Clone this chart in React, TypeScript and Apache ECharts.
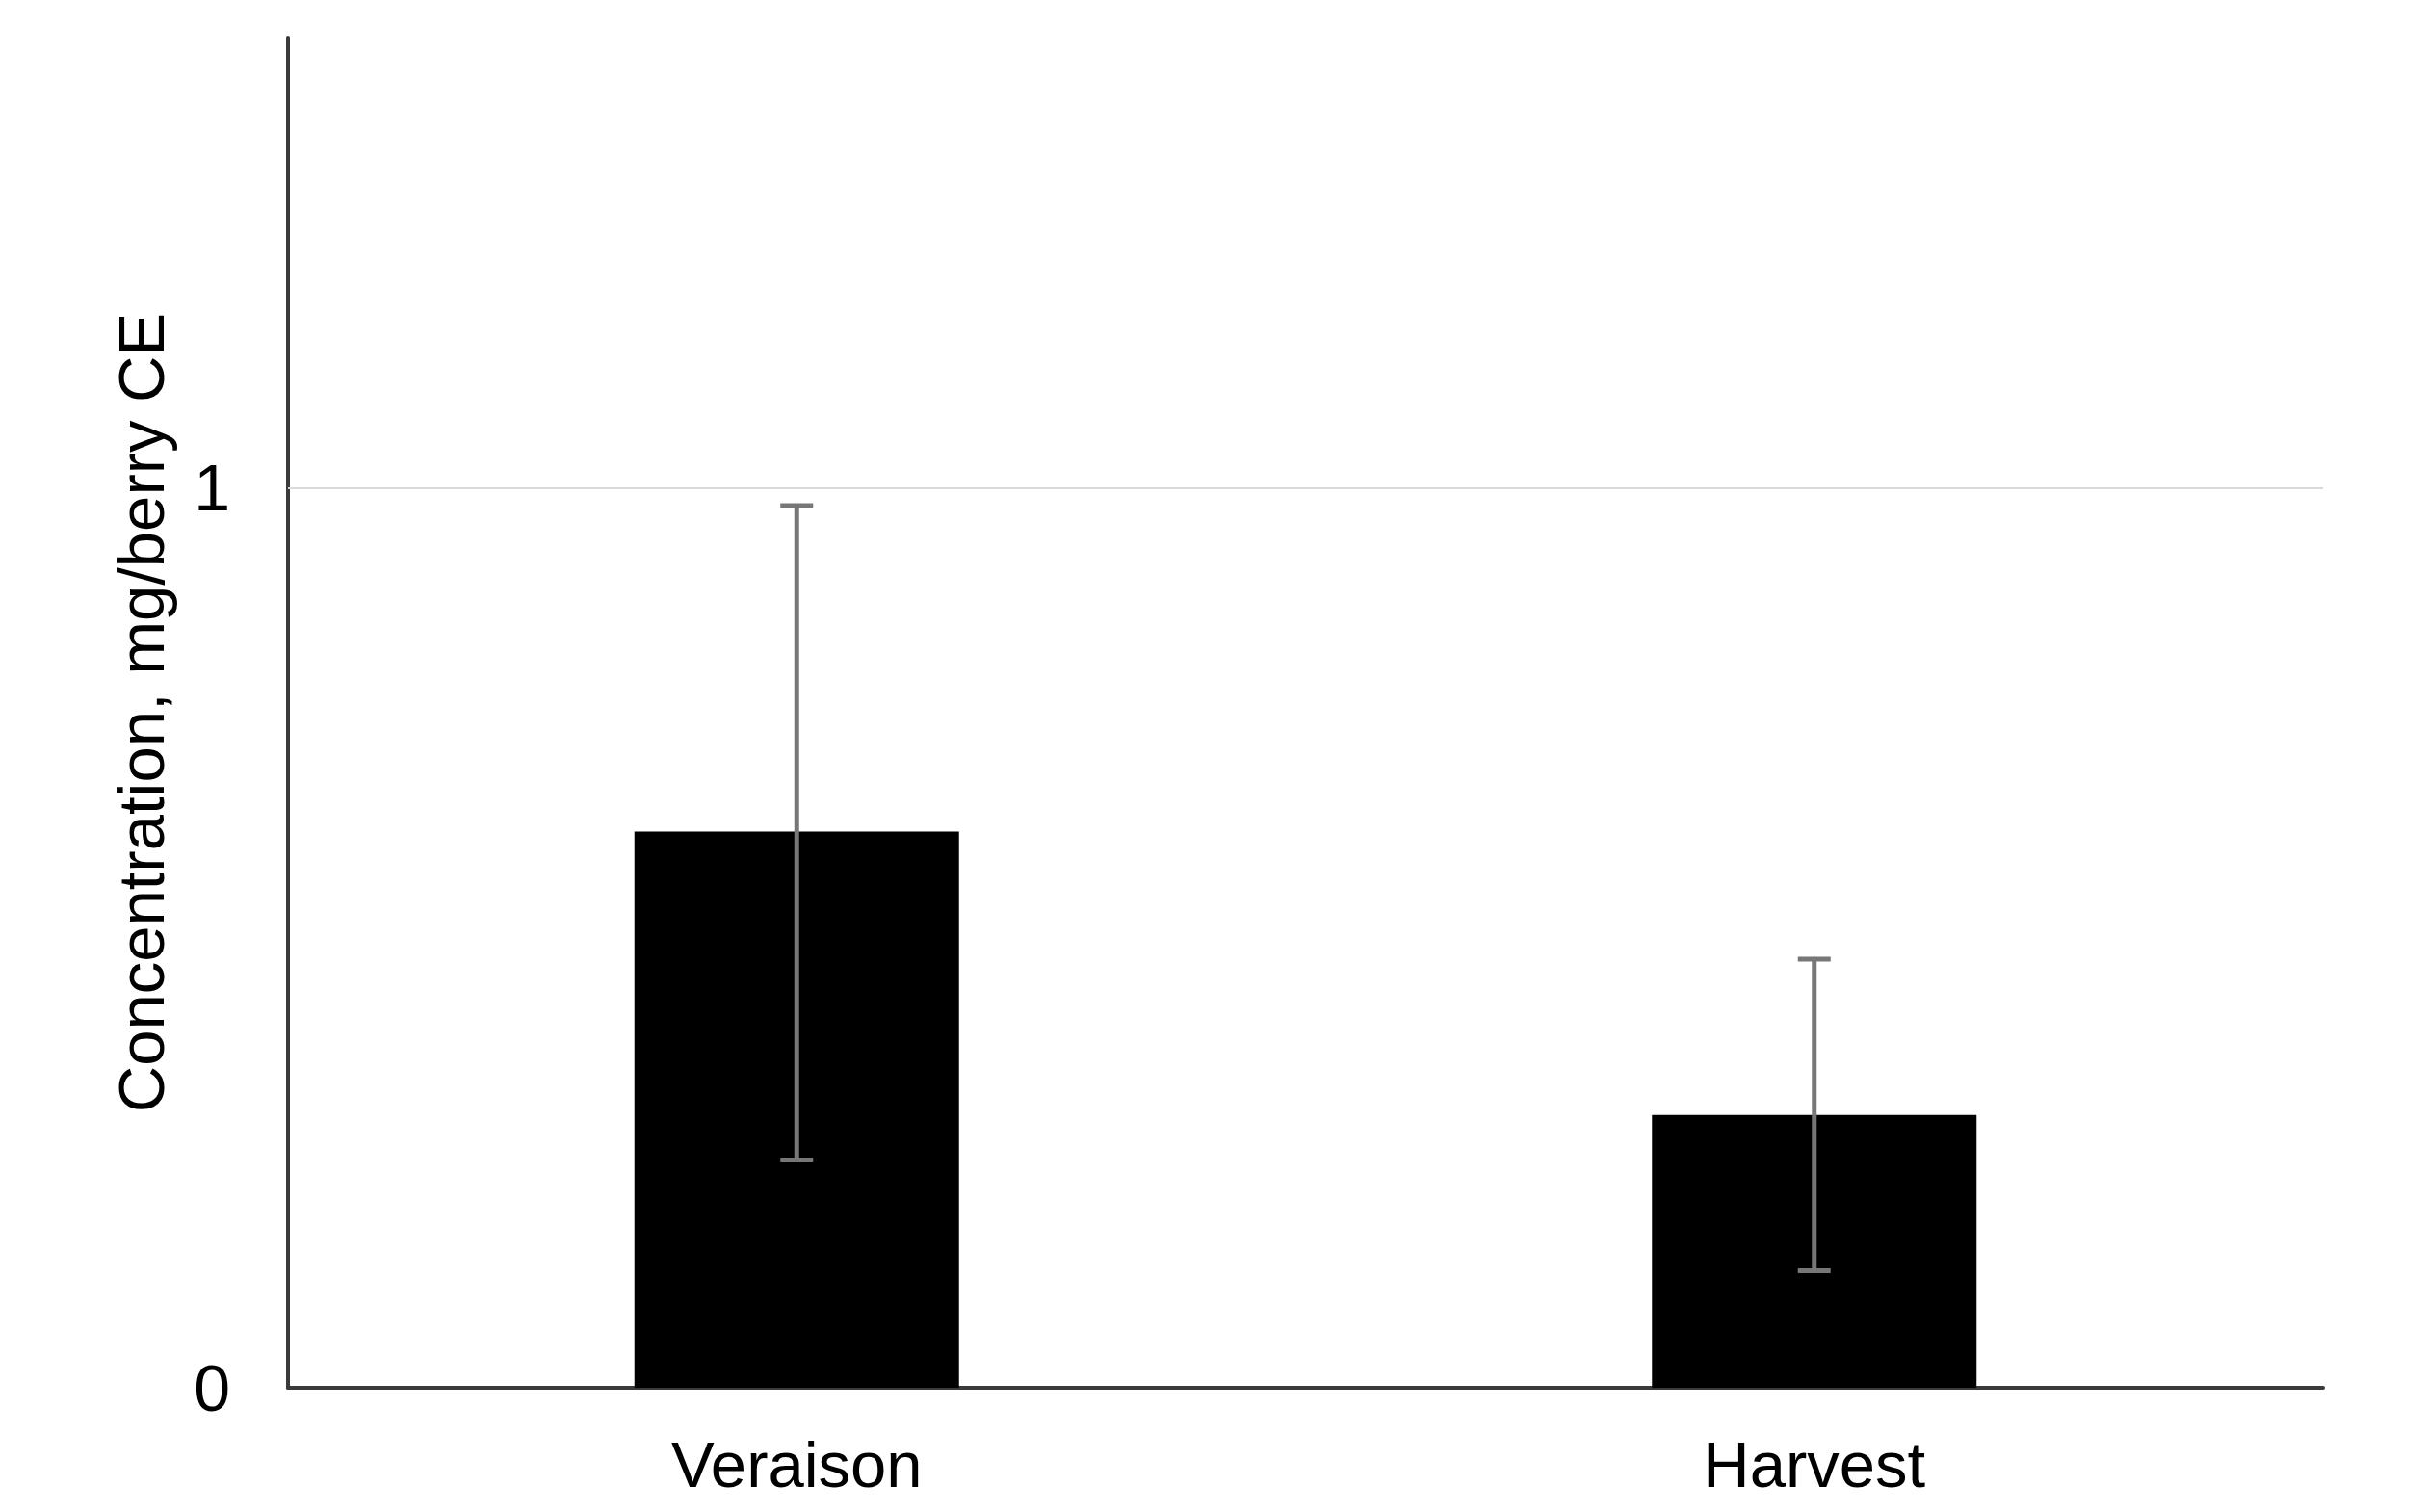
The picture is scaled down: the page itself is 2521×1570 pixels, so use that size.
import React, { useEffect, useRef } from "react";
import * as echarts from "echarts";

const categories = ["Veraison", "Harvest"];
const values = [0.618, 0.303];
const errLow = [0.253, 0.13];
const errHigh = [0.98, 0.476];
const yTickLabels = [0, 1];
const yAxisName = "Concentration, mg/berry CE";

const FONT = "'Liberation Sans', Arial, sans-serif";

export default function App() {
  const ref = useRef<HTMLDivElement>(null);
  useEffect(() => {
    if (!ref.current) return;
    const chart = echarts.init(ref.current, undefined, { renderer: "svg" });
    chart.setOption({
      animation: false,
      backgroundColor: "#ffffff",
      grid: { left: 299, right: 109, top: 39, bottom: 129 },
      xAxis: {
        type: "category",
        data: categories,
        axisLine: { show: true, lineStyle: { color: "#3a3a3a", width: 4 } },
        axisTick: { show: false },
        axisLabel: { color: "#000", fontFamily: FONT, fontSize: 67, margin: 46 },
      },
      yAxis: {
        type: "value",
        min: 0,
        max: 1.5,
        interval: 1,
        name: yAxisName,
        nameLocation: "middle",
        nameGap: 119,
        nameTextStyle: { color: "#000", fontFamily: FONT, fontSize: 67 },
        axisLine: { show: true, lineStyle: { color: "#3a3a3a", width: 4 } },
        axisTick: { show: false },
        splitLine: { show: false },
        axisLabel: {
          color: "#000",
          fontFamily: FONT,
          fontSize: 68,
          margin: 60,
          showMaxLabel: false,
          formatter: (v: number) => (yTickLabels.includes(v) ? String(v) : ""),
        },
      },
      series: [
        {
          type: "bar",
          data: values,
          barWidth: 337,
          itemStyle: { color: "#000" },
          markLine: {
            silent: true,
            symbol: "none",
            label: { show: false },
            lineStyle: { color: "#d9d9d9", width: 2, type: "solid" },
            data: [{ yAxis: 1 }],
          },
          z: 2,
        },
        {
          type: "custom",
          data: categories.map((_, i) => [i, errLow[i], errHigh[i]]),
          z: 5,
          renderItem: (params: any, api: any) => {
            const x = api.value(0);
            const lo = api.coord([x, api.value(1)]);
            const hi = api.coord([x, api.value(2)]);
            const hw = 17;
            const style = { stroke: "#777777", lineWidth: 5 };
            return {
              type: "group",
              children: [
                { type: "line", shape: { x1: lo[0], y1: lo[1], x2: hi[0], y2: hi[1] }, style },
                { type: "line", shape: { x1: hi[0] - hw, y1: hi[1], x2: hi[0] + hw, y2: hi[1] }, style },
                { type: "line", shape: { x1: lo[0] - hw, y1: lo[1], x2: lo[0] + hw, y2: lo[1] }, style },
              ],
            };
          },
        },
      ],
    });
    return () => chart.dispose();
  }, []);
  return (
    <div
      ref={ref}
      style={{ position: "fixed", left: 0, top: 0, width: 2521, height: 1570, background: "#fff" }}
    />
  );
}
